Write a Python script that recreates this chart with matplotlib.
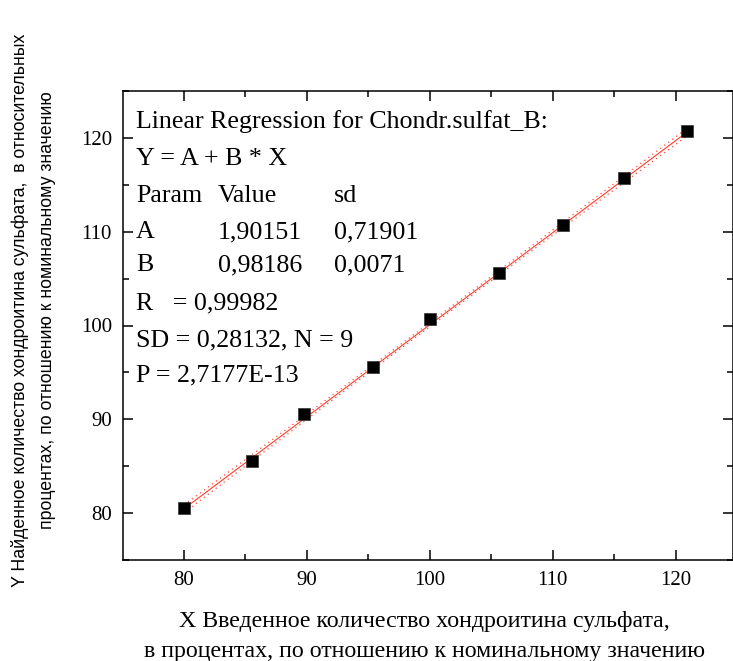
import numpy as np
import matplotlib
matplotlib.use('Agg')
import matplotlib.pyplot as plt
from matplotlib.ticker import MultipleLocator

# measured points (X introduced, Y found), %
x_intro = [80.0, 85.55, 89.8, 95.37, 100.05, 105.66, 110.81, 115.82, 120.89]
y_found = [80.5, 85.52, 90.53, 95.58, 100.64, 105.6, 110.67, 115.69, 120.74]

# regression results as printed on the chart
A, B = 1.90151, 0.98186
SD, N = 0.28132, 9
T95 = 2.365

stats_lines = [
    'Linear Regression for Chondr.sulfat_B:',
    'Y = A + B * X',
    None,
    None,
    None,
    'R   = 0,99982',
    'SD = 0,28132, N = 9',
    'P = 2,7177E-13',
]
param_rows = [
    ('Param', 'Value', 'sd'),
    ('A', '1,90151', '0,71901'),
    ('B', '0,98186', '0,0071'),
]

plt.rcParams['font.family'] = ['Liberation Serif', 'DejaVu Serif']

fig = plt.figure(figsize=(7.33, 6.61), dpi=100)
W, H = 733, 661
L, R, T, BOT = 123, 733, 91, 560
ax = fig.add_axes([L / W, 1 - BOT / H, (R - L) / W, (BOT - T) / H])

xs = np.array(x_intro)
xx = np.linspace(xs.min(), xs.max(), 200)
yy = A + B * xx
sxx = np.sum((xs - xs.mean()) ** 2)
band = T95 * SD * np.sqrt(1.0 / N + (xx - xs.mean()) ** 2 / sxx)

ax.plot(xx, yy, color='#ff3b2a', lw=0.8, zorder=2)
ax.plot(xx, yy + band, color='#ff4a3a', lw=0.9, ls=(0, (1, 3)), zorder=2)
ax.plot(xx, yy - band, color='#ff4a3a', lw=0.9, ls=(0, (1, 3)), zorder=2)
ax.plot(x_intro, y_found, 's', color='black', ms=8, mec='#333333', mew=0.5, zorder=3)

ax.set_xlim(75.05, 124.65)
ax.set_ylim(75.0, 125.0)
ax.xaxis.set_major_locator(MultipleLocator(10))
ax.xaxis.set_minor_locator(MultipleLocator(5))
ax.yaxis.set_major_locator(MultipleLocator(10))
ax.yaxis.set_minor_locator(MultipleLocator(5))
ax.tick_params(which='both', direction='in', top=True, right=True, width=1.1)
ax.tick_params(which='major', length=7, labelsize=15, pad=8)
ax.tick_params(which='minor', length=4.5)
for s in ax.spines.values():
    s.set_linewidth(1.1)
ax.spines['right'].set_clip_on(False)

ypos = [122, 159, 196, 232, 265, 303, 340, 375]
def to_ax(px, py):
    return (px - L) / (R - L), (BOT - py) / (BOT - T)

fs = 18.7
for i, line in enumerate(stats_lines):
    if line is not None:
        ax.text(*to_ax(136, ypos[i]), line, transform=ax.transAxes,
                fontsize=fs, va='center', ha='left')
for j, row in enumerate(param_rows):
    for px, cell in zip([136, 218, 334], row):
        ax.text(*to_ax(px, ypos[2 + j]), cell, transform=ax.transAxes,
                fontsize=fs, va='center', ha='left')

fig.text(424 / W, 1 - 621 / H, 'X Введенное количество хондроитина сульфата,',
         fontsize=17.2, ha='center', va='center')
fig.text(424 / W, 1 - 651 / H, 'в процентах, по отношению к номинальному значению',
         fontsize=17.2, ha='center', va='center')

yfam = ['Liberation Sans Narrow', 'Liberation Sans', 'DejaVu Sans']
fig.text(20 / W, 1 - 310 / H,
         'Y Найденное количество хондроитина сульфата,  в относительных',
         fontsize=12.8, rotation=90, ha='center', va='center', family=yfam)
fig.text(48 / W, 1 - 310 / H,
         'процентах, по отношению к номинальному значению',
         fontsize=12.8, rotation=90, ha='center', va='center', family=yfam)

fig.savefig('out.png', dpi=100)
